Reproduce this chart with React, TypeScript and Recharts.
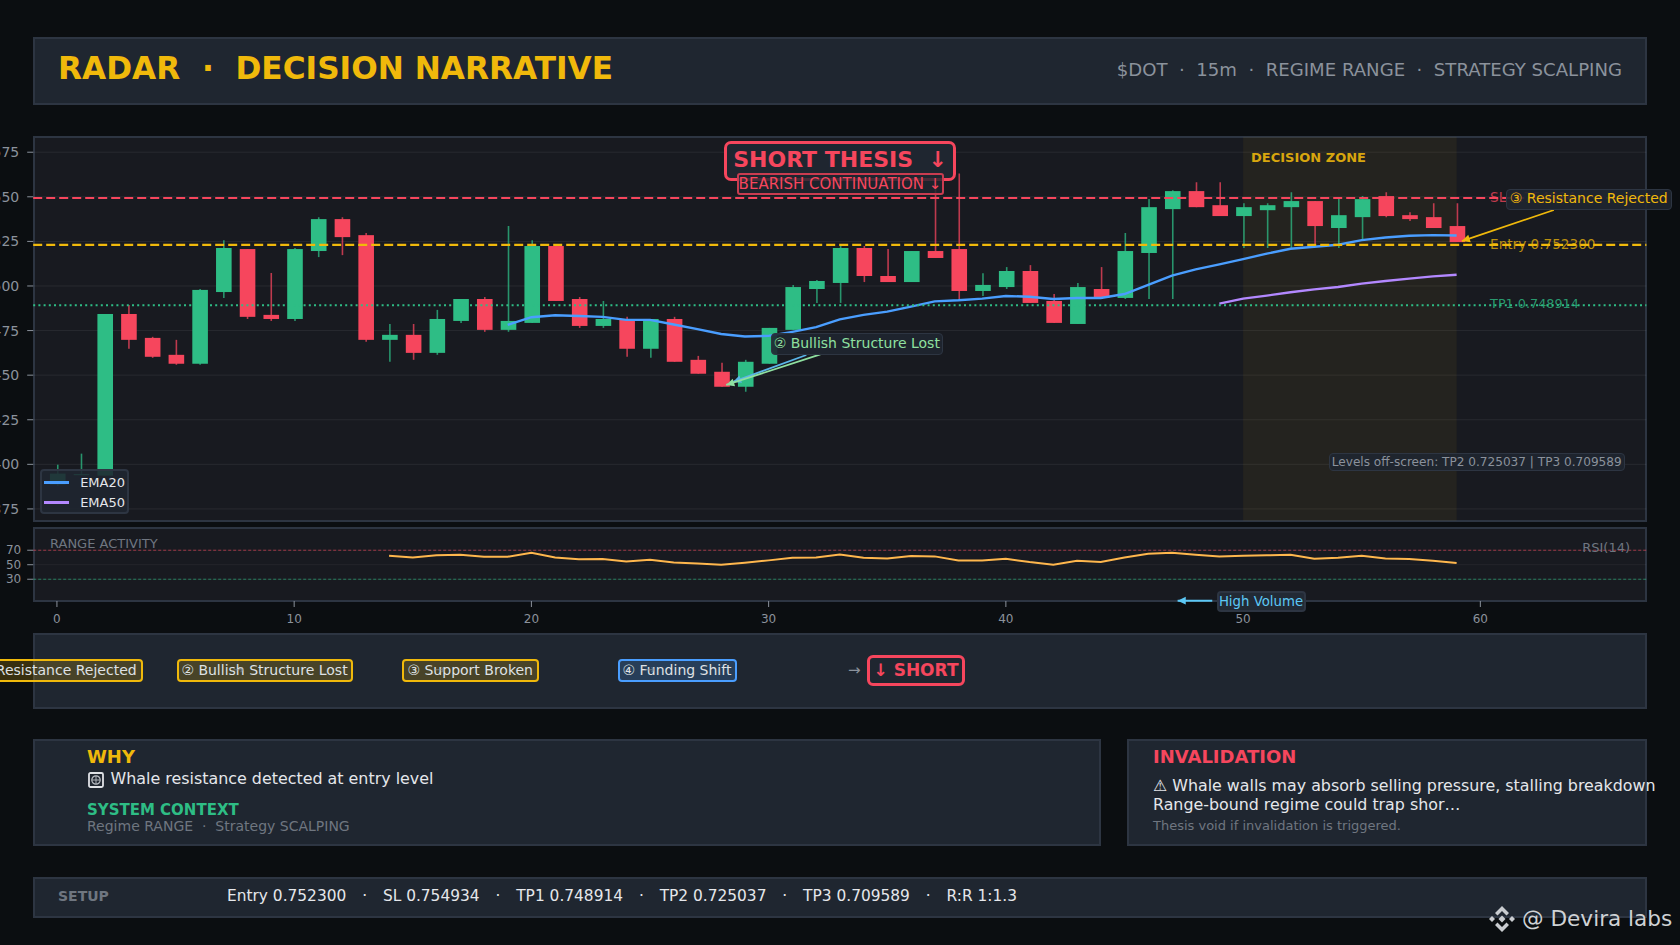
import React from "react";
import {
  Bar,
  CartesianGrid,
  ComposedChart,
  Legend,
  Line,
  LineChart,
  ReferenceArea,
  ReferenceDot,
  ReferenceLine,
  XAxis,
  YAxis,
} from "recharts";

const FONT = '"DejaVu Sans", sans-serif';
const GREEN = "#2ebd85";
const RED = "#f6465d";
const GOLD = "#f0b90b";
const BLUE = "#4a9eff";
const PURPLE = "#b388ff";
const ORANGE = "#ffb74d";
const GRAY = "#8b929c";
const DIM = "#6f7680";
const PAGE = "#0b0e11";
const CARD = "#1f2630";
const PLOT = "#181a20";
const EDGE = "#2d3542";

// candles
const opens = [
  0.73887, 0.73939, 0.73937, 0.74843, 0.74709, 0.74614, 0.74564, 0.74966, 0.75207, 0.74838,
  0.74815, 0.75196, 0.75375, 0.75285, 0.74698, 0.74726, 0.74625, 0.74804, 0.74927, 0.74754,
  0.74793, 0.75224, 0.74927, 0.74776, 0.7481, 0.74648, 0.74815, 0.74586, 0.74519, 0.74435,
  0.74564, 0.74754, 0.74983, 0.75017, 0.75213, 0.75056, 0.75022, 0.75196, 0.75207, 0.74972,
  0.74994, 0.75084, 0.74916, 0.74787, 0.74983, 0.74933, 0.75185, 0.75431, 0.75532, 0.75453,
  0.75392, 0.75425, 0.75442, 0.75476, 0.75325, 0.75386, 0.75504, 0.75397, 0.75386, 0.75336,
];
const closes = [
  0.73948, 0.73946, 0.74843, 0.74698, 0.74603, 0.74564, 0.74978, 0.75213, 0.74827, 0.74815,
  0.75207, 0.75375, 0.75274, 0.74698, 0.74726, 0.74625, 0.74815, 0.74927, 0.74754, 0.74804,
  0.75224, 0.74916, 0.74776, 0.74815, 0.74648, 0.74815, 0.74575, 0.74508, 0.74435, 0.74575,
  0.74765, 0.74994, 0.75028, 0.75213, 0.75056, 0.75022, 0.75196, 0.75157, 0.74972, 0.75006,
  0.75084, 0.74905, 0.74793, 0.74994, 0.74933, 0.75196, 0.75442, 0.75532, 0.75442, 0.75392,
  0.75442, 0.75453, 0.75476, 0.75336, 0.75397, 0.75487, 0.75392, 0.75375, 0.75325, 0.75246,
];
const highs = [
  0.73998, 0.7406, 0.74843, 0.74894, 0.74715, 0.74698, 0.74983, 0.75257, 0.75207, 0.75073,
  0.75213, 0.75386, 0.75386, 0.75297, 0.74787, 0.74787, 0.74866, 0.74927, 0.74938, 0.75336,
  0.75257, 0.75224, 0.74938, 0.74916, 0.74827, 0.74815, 0.74827, 0.74608, 0.74569, 0.74586,
  0.74765, 0.75006, 0.75034, 0.75224, 0.75224, 0.75207, 0.75196, 0.75612, 0.7563, 0.75071,
  0.75106, 0.75117, 0.74955, 0.75017, 0.75106, 0.75297, 0.75487, 0.75537, 0.75582, 0.75582,
  0.75464, 0.75464, 0.75526, 0.75476, 0.75487, 0.75504, 0.75526, 0.75414, 0.75464, 0.75464,
];
const lows = [
  0.7388, 0.73939, 0.73937, 0.74648, 0.74597, 0.74558, 0.74558, 0.74933, 0.74815, 0.74804,
  0.74804, 0.75162, 0.75173, 0.74687, 0.74575, 0.74586, 0.74614, 0.74793, 0.74743, 0.74743,
  0.74793, 0.74916, 0.74765, 0.74765, 0.74603, 0.74597, 0.74575, 0.74508, 0.74435, 0.74407,
  0.74564, 0.74754, 0.74905, 0.74905, 0.75022, 0.75022, 0.75022, 0.75157, 0.74927, 0.74944,
  0.74983, 0.74905, 0.74793, 0.74787, 0.74927, 0.74927, 0.74927, 0.74927, 0.75442, 0.75392,
  0.75213, 0.75213, 0.75213, 0.75229, 0.75213, 0.75257, 0.75386, 0.75364, 0.75325, 0.75246,
];

const ema20 = [
  0.74782, 0.74825, 0.74836, 0.74832, 0.74827, 0.7481, 0.7481, 0.74784, 0.74758, 0.74731,
  0.74717, 0.7472, 0.74743, 0.74769, 0.74813, 0.74838, 0.74856, 0.74884, 0.74914, 0.7492,
  0.74929, 0.74944, 0.7494, 0.74927, 0.74933, 0.74933, 0.74955, 0.75006, 0.75058, 0.75093,
  0.75121, 0.75151, 0.75181, 0.75209, 0.7522, 0.75231, 0.75257, 0.75272, 0.75282, 0.75285,
  0.75283,
];
const ema20Start = 19;
const ema50 = [0.74901, 0.74929, 0.74946, 0.74965, 0.74981, 0.74994, 0.75013, 0.75028, 0.75041, 0.75054, 0.75063];
const ema50Start = 49;

const rsi = [
  62.4, 60.1, 62.9, 63.8, 61, 61, 66.6, 60, 57.4, 57.8, 54.6, 56.9, 53.2, 51.8, 50, 52.8, 56, 59.7, 60, 64,
  59.7, 58.7, 62, 61.5, 56, 56, 58.3, 53.7, 50, 55.5, 53.7, 60, 65, 66.6, 63.8, 61.5, 62.4, 62.9, 63.8, 58.3,
  59.7, 62.4, 58.7, 57.8, 55.5, 52.3,
];
const rsiStart = 14;

const priceTicks = [0.7375, 0.74, 0.7425, 0.745, 0.7475, 0.75, 0.7525, 0.755, 0.7575];
const rsiTicks = [30, 50, 70];
const indexTicks = [0, 10, 20, 30, 40, 50, 60];

const SL = 0.754934;
const ENTRY = 0.7523;
const TP1 = 0.748914;

const setupItems = ["Entry 0.752300", "SL 0.754934", "TP1 0.748914", "TP2 0.725037", "TP3 0.709589", "R:R 1:1.3"];

const candleData = opens.map((open, i) => ({
  i,
  open,
  close: closes[i],
  high: highs[i],
  low: lows[i],
  ema20: i >= ema20Start ? ema20[i - ema20Start] : null,
  ema50: i >= ema50Start ? ema50[i - ema50Start] : null,
}));

const rsiData = rsi.map((v, k) => ({ i: k + rsiStart, v }));

function Candle(props: any) {
  const { y, width, height, payload } = props;
  // recharts leaves the bar a touch left of the tick on a number axis
  const x = props.x + 0.9;
  const up = payload.close >= payload.open;
  const color = up ? GREEN : RED;
  const range = payload.high - payload.low || 1;
  const yAt = (v: number) => y + ((payload.high - v) / range) * height;
  const top = yAt(Math.max(payload.open, payload.close));
  const bottom = yAt(Math.min(payload.open, payload.close));
  const mid = x + width / 2;
  return (
    <g>
      <line x1={mid} x2={mid} y1={y} y2={y + height} stroke={color} strokeWidth={1.6} strokeOpacity={0.75} />
      <rect x={x} y={top} width={width} height={Math.max(bottom - top, 1)} fill={color} />
    </g>
  );
}

function arrowShape(color: string, width = 1.8) {
  return (props: any) => {
    const { x1, y1, x2, y2 } = props;
    const a = Math.atan2(y2 - y1, x2 - x1);
    const len = 9;
    const p1 = [x2 - len * Math.cos(a - 0.45), y2 - len * Math.sin(a - 0.45)];
    const p2 = [x2 - len * Math.cos(a + 0.45), y2 - len * Math.sin(a + 0.45)];
    return (
      <g>
        <line x1={x1} y1={y1} x2={x2} y2={y2} stroke={color} strokeWidth={width} />
        <polygon points={`${x2},${y2} ${p1[0]},${p1[1]} ${p2[0]},${p2[1]}`} fill={color} />
      </g>
    );
  };
}

function LegendBox({ payload }: any) {
  return (
    <div
      style={{
        boxSizing: "border-box",
        width: 89,
        height: 45,
        background: "rgba(31,38,48,0.88)",
        border: `2px solid ${EDGE}`,
        borderRadius: 4,
        padding: "2px 2px",
      }}
    >
      {(payload || []).map((p: any) => (
        <div key={p.value} style={{ display: "flex", alignItems: "center", height: 20 }}>
          <span style={{ width: 28, height: 2.6, background: p.color, marginRight: 11.5 }} />
          <span style={{ font: `13px ${FONT}`, color: "#e5e7eb" }}>{p.value}</span>
        </div>
      ))}
    </div>
  );
}

function Panel({ x, y, w, h, bg = CARD }: { x: number; y: number; w: number; h: number; bg?: string }) {
  return (
    <div
      style={{
        position: "absolute",
        left: x,
        top: y,
        width: w,
        height: h,
        boxSizing: "border-box",
        background: bg,
        border: `2px solid ${EDGE}`,
      }}
    />
  );
}

function T({ x, y, size, color, bold, right, opacity, children }: any) {
  return (
    <div
      style={{
        position: "absolute",
        left: right ? undefined : x,
        right: right ? 1680 - x : undefined,
        top: y,
        transform: "translateY(-50%)",
        font: `${bold ? "bold " : ""}${size}px ${FONT}`,
        color,
        opacity,
        whiteSpace: "pre",
        lineHeight: 1.2,
      }}
    >
      {children}
    </div>
  );
}

function Chip({ x, y, w, h, border, bg, bw = 1.5, radius = 4, size, color, bold, lift = 0, children }: any) {
  return (
    <div
      style={{
        position: "absolute",
        left: x,
        top: y,
        width: w,
        height: h,
        boxSizing: "border-box",
        border: `${bw}px solid ${border}`,
        borderRadius: radius,
        background: bg,
        display: "flex",
        alignItems: "center",
        justifyContent: "center",
        paddingBottom: lift,
        font: `${bold ? "bold " : ""}${size}px ${FONT}`,
        color,
        whiteSpace: "pre",
      }}
    >
      {children}
    </div>
  );
}

function Logo() {
  const d = (cx: number, cy: number, r: number) => `M${cx} ${cy - r}L${cx + r} ${cy}L${cx} ${cy + r}L${cx - r} ${cy}Z`;
  return (
    <svg style={{ position: "absolute", left: 1488, top: 905 }} width={28} height={28} viewBox="0 0 28 28">
      <path d="M14 1L21 8L18.5 10.5L14 6L9.5 10.5L7 8Z" fill="#c9ccd0" />
      <path d="M14 27L21 20L18.5 17.5L14 22L9.5 17.5L7 20Z" fill="#c9ccd0" />
      <path d={d(4, 14, 3)} fill="#c9ccd0" />
      <path d={d(24, 14, 3)} fill="#c9ccd0" />
      <path d={d(14, 14, 3.5)} fill="#c9ccd0" />
    </svg>
  );
}

// the missing-glyph box the reference shows in front of the whale line
function GlyphBox() {
  return (
    <svg style={{ position: "absolute", left: 88, top: 771.5 }} width={16} height={16} viewBox="0 0 16 16">
      <rect x={1} y={1} width={14} height={14} rx={1.5} fill="none" stroke="#dfe2e6" strokeWidth={1.8} />
      <circle cx={8} cy={8} r={4.2} fill="none" stroke="#b8bcc2" strokeWidth={1.2} />
      <path d="M8 3.8V12.2M3.8 8H12.2" stroke="#b8bcc2" strokeWidth={0.9} />
    </svg>
  );
}

export default function App() {
  return (
    <div style={{ position: "fixed", left: 0, top: 0, width: 1680, height: 945, background: PAGE, overflow: "hidden", fontFamily: FONT }}>
      <Panel x={33} y={37} w={1614} h={68} />
      <T x={58} y={69} size={31.2} color={GOLD} bold>{"RADAR  ·  DECISION NARRATIVE"}</T>
      <T x={1622} y={69.5} size={18.1} color={GRAY} right>{"$DOT  ·  15m  ·  REGIME RANGE  ·  STRATEGY SCALPING"}</T>

      <Panel x={33} y={136} w={1614} h={386} bg={PLOT} />
      <div style={{ position: "absolute", left: 0, top: 130 }}>
        <ComposedChart
          width={1680}
          height={400}
          data={candleData}
          margin={{ top: 6.7, right: 33.6, bottom: 0, left: 0 }}
        >
          <CartesianGrid horizontal vertical={false} stroke="#ffffff" strokeOpacity={0.07} syncWithTicks />
          <XAxis
            dataKey="i"
            type="number"
            domain={[-1, 67]}
            ticks={indexTicks}
            interval={0}
            height={9.3}
            tick={false}
            axisLine={false}
            tickLine={{ stroke: GRAY }}
            tickSize={5}
          />
          <YAxis
            type="number"
            domain={[0.73684, 0.75837]}
            ticks={priceTicks}
            interval={0}
            width={33.2}
            allowDataOverflow
            axisLine={false}
            tickLine={{ stroke: GRAY }}
            tickSize={6}
            tickMargin={8}
            tick={{ fill: GRAY, fontSize: 14, fontFamily: FONT }}
            tickFormatter={(v: number) => v.toFixed(4)}
          />
          <ReferenceArea x1={50} x2={59} fill={GOLD} fillOpacity={0.06} stroke="none" />
          <Bar
            dataKey={(d: any) => [d.low, d.high]}
            barSize={15.6}
            shape={Candle}
            legendType="none"
            isAnimationActive={false}
          />
          <Line dataKey="ema20" name="EMA20" stroke={BLUE} strokeWidth={2.4} dot={false} connectNulls={false} isAnimationActive={false} />
          <Line dataKey="ema50" name="EMA50" stroke={PURPLE} strokeWidth={2.4} dot={false} connectNulls={false} isAnimationActive={false} />
          <ReferenceLine y={SL} stroke={RED} strokeWidth={2} strokeDasharray="9 4" />
          <ReferenceLine y={ENTRY} stroke={GOLD} strokeWidth={2.2} strokeDasharray="9 4" />
          <ReferenceLine y={TP1} stroke={GREEN} strokeWidth={2} strokeDasharray="2 3.2" />
          <ReferenceDot x={60.2} y={SL} r={0} fill="none" stroke="none" label={{ value: "SL 0.754934", position: "right", fill: RED, fillOpacity: 0.75, fontSize: 13.6, fontFamily: FONT, dy: -1 }} />
          <ReferenceDot x={60.2} y={ENTRY} r={0} fill="none" stroke="none" label={{ value: "Entry 0.752300", position: "right", fill: GOLD, fillOpacity: 0.75, fontSize: 13.6, fontFamily: FONT, dy: -1 }} />
          <ReferenceDot x={60.2} y={TP1} r={0} fill="none" stroke="none" label={{ value: "TP1 0.748914", position: "right", fill: GREEN, fillOpacity: 0.8, fontSize: 12.8, fontFamily: FONT, dy: -1.5 }} />
          <ReferenceLine segment={[{ x: 31.59, y: 0.74613 }, { x: 28.5, y: 0.74462 }]} shape={arrowShape("#5ab4e8")} ifOverflow="visible" />
          <ReferenceLine segment={[{ x: 32.18, y: 0.74616 }, { x: 28.21, y: 0.74445 }]} shape={arrowShape("#8fe0a0")} ifOverflow="visible" />
          <ReferenceLine segment={[{ x: 63.1, y: 0.75426 }, { x: 59.22, y: 0.75252 }]} shape={arrowShape(GOLD)} ifOverflow="visible" />
          <Legend
            layout="horizontal"
            verticalAlign="middle"
            align="center"
            content={<LegendBox />}
            wrapperStyle={{ left: 40, top: 338.5, width: 89, height: 45, margin: 0 }}
          />
        </ComposedChart>
      </div>

      <T x={1251} y={157.5} size={13} color="#d8a60e" bold>DECISION ZONE</T>
      <Chip x={724} y={141} w={232} h={40} border={RED} bw={3} radius={7} bg={CARD} size={22} color={RED} bold lift={3}>{"SHORT THESIS  ↓"}</Chip>
      <Chip x={736.5} y={173} w={207} h={22} border="#c93c50" bw={2} radius={3} bg="rgba(31,38,48,0.82)" size={15} color={RED} lift={1}>{"BEARISH CONTINUATION ↓"}</Chip>
      <Chip x={770.5} y={333} w={172.5} h={21.5} border={EDGE} bg="rgba(31,38,48,0.9)" size={14} color="#8fe0a0" lift={2}>{"② Bullish Structure Lost"}</Chip>
      <Chip x={1506} y={189} w={165.5} h={20.5} border={EDGE} bg="rgba(31,38,48,0.9)" size={14} color={GOLD} lift={2}>{"③ Resistance Rejected"}</Chip>
      <Chip x={1329} y={453} w={295.5} h={18} border={EDGE} bg="rgba(31,38,48,0.9)" size={12.1} color={GRAY}>{"Levels off-screen: TP2 0.725037 | TP3 0.709589"}</Chip>

      <Panel x={33} y={527} w={1614} h={75} bg={PLOT} />
      <div style={{ position: "absolute", left: 0, top: 520 }}>
        <LineChart width={1680} height={110} data={rsiData} margin={{ top: 7.3, right: 33.6, bottom: 0, left: 0 }}>
          <CartesianGrid horizontal vertical={false} stroke="#ffffff" strokeOpacity={0.05} syncWithTicks />
          <XAxis
            dataKey="i"
            type="number"
            domain={[-1, 67]}
            ticks={indexTicks}
            interval={0}
            height={29}
            axisLine={false}
            tickLine={{ stroke: GRAY }}
            tickSize={6}
            tickMargin={7}
            tick={{ fill: GRAY, fontSize: 12, fontFamily: FONT }}
          />
          <YAxis
            type="number"
            domain={[0, 101.6]}
            ticks={rsiTicks}
            interval={0}
            width={33.2}
            axisLine={false}
            tickLine={{ stroke: GRAY }}
            tickSize={6}
            tickMargin={6}
            tick={{ fill: GRAY, fontSize: 12, fontFamily: FONT }}
          />
          <ReferenceLine y={70} stroke={RED} strokeOpacity={0.6} strokeWidth={1} strokeDasharray="3 2" />
          <ReferenceLine y={30} stroke={GREEN} strokeOpacity={0.6} strokeWidth={1} strokeDasharray="3 2" />
          <Line dataKey="v" stroke={ORANGE} strokeWidth={2} dot={false} isAnimationActive={false} />
          <ReferenceLine segment={[{ x: 48.7, y: 0.4 }, { x: 47.24, y: 0.4 }]} shape={arrowShape("#5cc8f5", 2)} ifOverflow="visible" />
        </LineChart>
      </div>
      <T x={50} y={544} size={13} color={DIM}>RANGE ACTIVITY</T>
      <T x={1630} y={548} size={13} color={DIM} right>RSI(14)</T>
      <Chip x={1216.5} y={590.5} w={89} h={21} border={EDGE} bg="#222a35" bw={2} size={13.3} color="#5cc8f5">High Volume</Chip>

      <Panel x={33} y={633} w={1614} h={76} />
      <Chip x={-27} y={659} w={169.5} h={23} border={GOLD} bg="rgba(240,185,11,0.2)" bw={2} size={14} color="#dfe1e4" lift={1}>{"① Resistance Rejected"}</Chip>
      <Chip x={176.5} y={659} w={176} h={23} border={GOLD} bg="rgba(240,185,11,0.2)" bw={2} size={14} color="#dfe1e4" lift={1}>{"② Bullish Structure Lost"}</Chip>
      <Chip x={402} y={659} w={136.5} h={23} border={GOLD} bg="rgba(240,185,11,0.2)" bw={2} size={14} color="#dfe1e4" lift={1}>{"③ Support Broken"}</Chip>
      <Chip x={617.5} y={659} w={119} h={23} border={BLUE} bg="rgba(74,158,255,0.2)" bw={2} size={14} color="#dfe1e4" lift={1}>{"④ Funding Shift"}</Chip>
      <T x={233} y={670} size={13} color={GRAY} opacity={0.6}>→</T>
      <T x={434} y={670} size={13} color={GRAY} opacity={0.6}>→</T>
      <T x={644} y={670} size={13} color={GRAY} opacity={0.6}>→</T>
      <T x={848} y={670} size={15} color={GRAY}>→</T>
      <Chip x={867} y={655} w={98} h={31} border={RED} bw={3} radius={6} bg={CARD} size={17} color={RED} bold lift={2}>{"↓ SHORT"}</Chip>

      <Panel x={33} y={739} w={1068} h={107} />
      <T x={87} y={757} size={18} color={GOLD} bold>WHY</T>
      <GlyphBox />
      <T x={110.5} y={779} size={15.9} color="#e5e7eb">Whale resistance detected at entry level</T>
      <T x={87} y={810} size={15} color={GREEN} bold>SYSTEM CONTEXT</T>
      <T x={87} y={826} size={14} color={DIM}>{"Regime RANGE  ·  Strategy SCALPING"}</T>

      <Panel x={1127} y={739} w={520} h={107} />
      <T x={1153} y={757} size={18} color={RED} bold>INVALIDATION</T>
      <T x={1153} y={785} size={15.85} color="#e5e7eb">{"⚠ Whale walls may absorb selling pressure, stalling breakdown"}</T>
      <T x={1153} y={804} size={15.85} color="#e5e7eb">{"Range-bound regime could trap shor…"}</T>
      <T x={1153} y={826} size={13} color={DIM}>Thesis void if invalidation is triggered.</T>

      <Panel x={33} y={877} w={1614} h={41} />
      <T x={58} y={896} size={14} color={DIM} bold>SETUP</T>
      <T x={227} y={896} size={15.4} color="#e5e7eb">
        {setupItems.map((item, k) => (
          <span key={item}>
            {k > 0 && <span style={{ padding: "0 1.2px" }}>{"   ·   "}</span>}
            {item}
          </span>
        ))}
      </T>

      <Logo />
      <T x={1522} y={919} size={21.6} color="#cfd2d5">@ Devira labs</T>
    </div>
  );
}
